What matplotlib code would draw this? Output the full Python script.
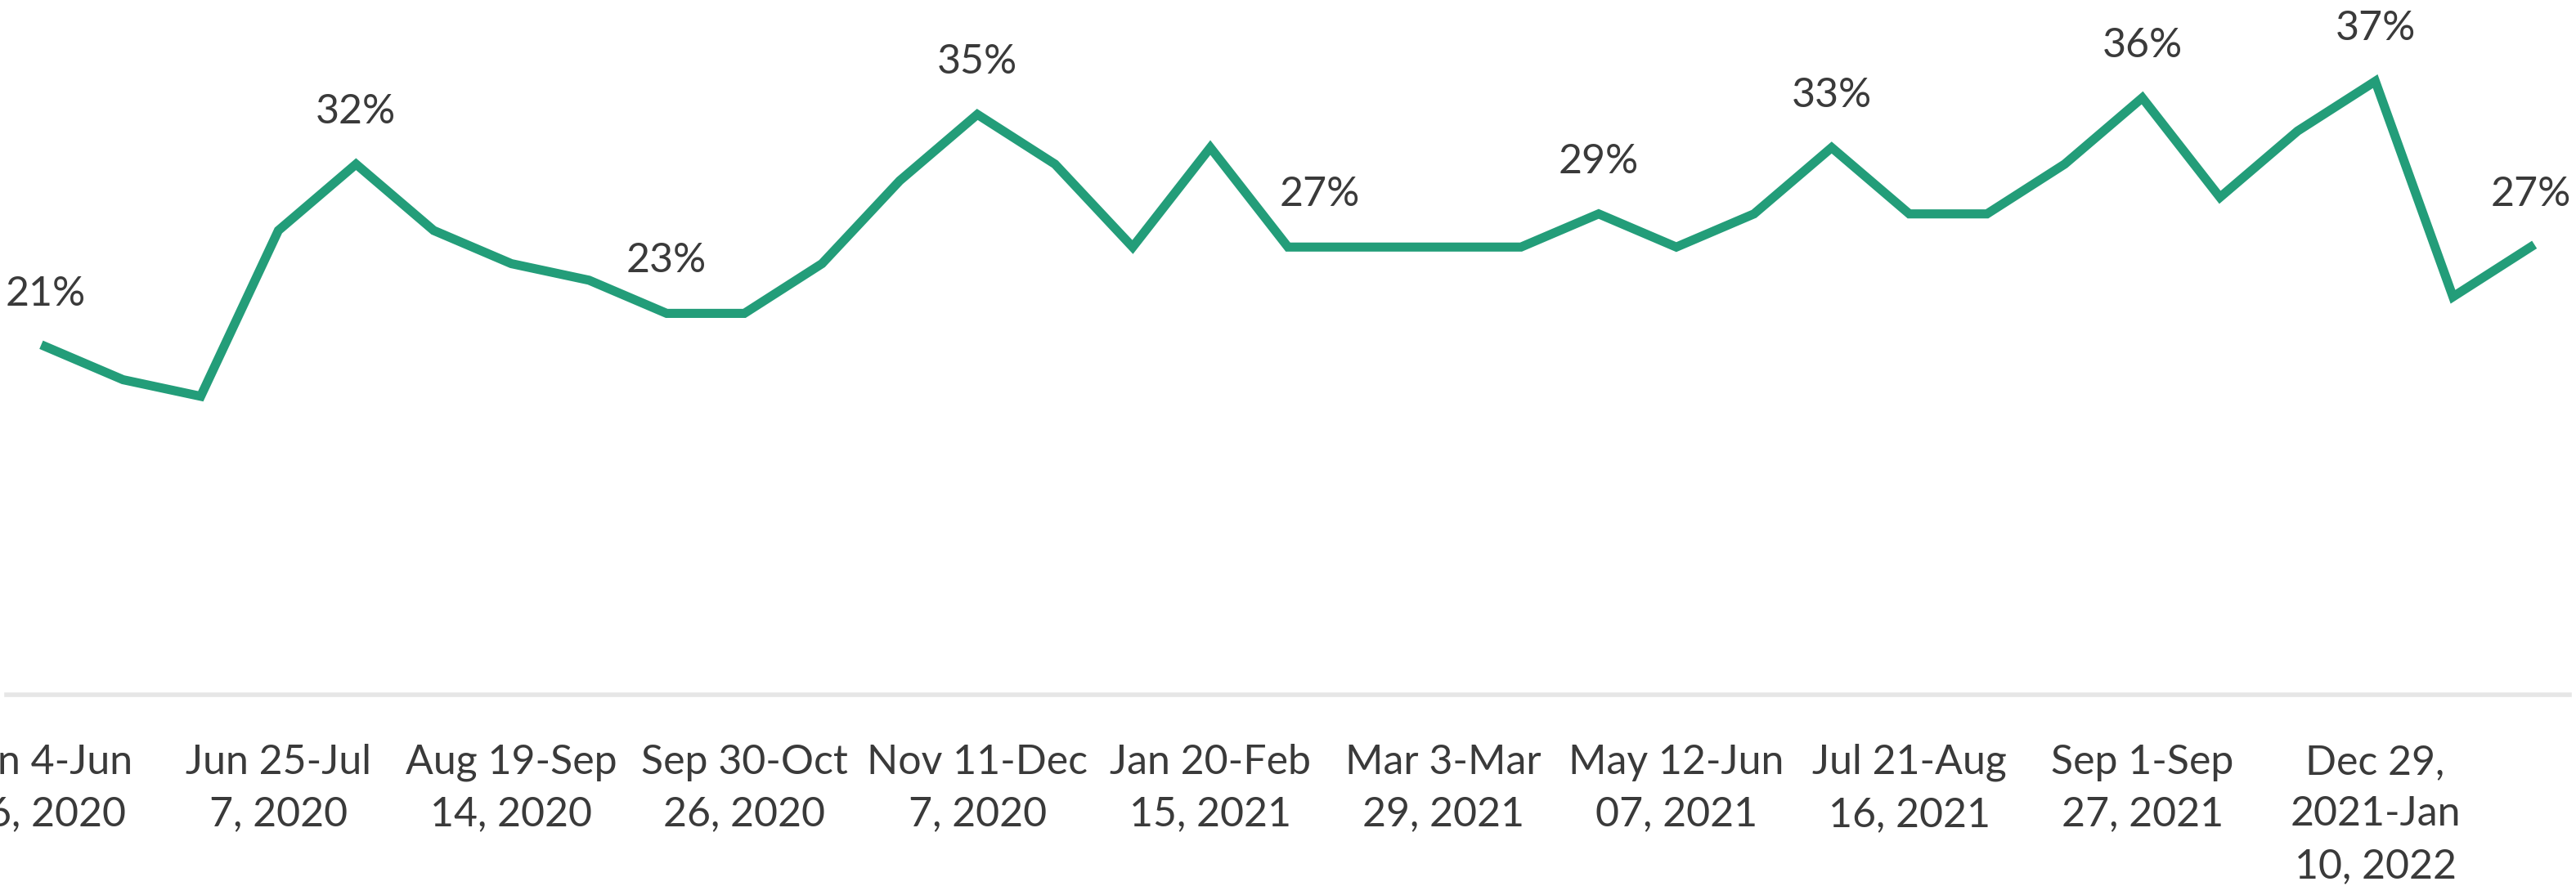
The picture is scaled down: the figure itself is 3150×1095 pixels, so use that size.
import matplotlib
matplotlib.use("Agg")
import matplotlib.pyplot as plt
import numpy as np

# share of respondents per survey week (percent)
values = [21, 19, 18, 28, 32, 28, 26, 25, 23, 23, 26, 31, 35, 32, 27, 33, 27,
          27, 27, 27, 29, 27, 29, 33, 29, 29, 32, 36, 30, 34, 37, 24, 27]

# points that carry a data label
label_idx = [0, 4, 8, 12, 16, 20, 23, 27, 30, 32]

# category labels shown (every third category)
tick_labels = [
    "Jun 4-Jun\n16, 2020",
    "Jun 25-Jul\n7, 2020",
    "Aug 19-Sep\n14, 2020",
    "Sep 30-Oct\n26, 2020",
    "Nov 11-Dec\n7, 2020",
    "Jan 20-Feb\n15, 2021",
    "Mar 3-Mar\n29, 2021",
    "May 12-Jun\n07, 2021",
    "Jul 21-Aug\n16, 2021",
    "Sep 1-Sep\n27, 2021",
    "Dec 29,\n2021-Jan\n10, 2022",
]
tick_step = 3

LINE = "#239d79"
TEXT = "#3a3a3a"

plt.rcParams["font.family"] = ["Lato", "DejaVu Sans"]

W, H = 3150, 1095
fig = plt.figure(figsize=(W / 100, H / 100), dpi=100)
ax = fig.add_axes([8 / W, (H - 850) / H, (3142 - 8) / W, 850 / H])

x = np.arange(len(values))
ax.plot(x, values, color=LINE, lw=8, solid_joinstyle="miter", clip_on=False)

for i in label_idx:
    # the label on the flat 27% run sits a little to the right of its point
    dx = 28 if i == 16 else 0
    ax.annotate(f"{values[i]}%", (x[i], values[i]), xytext=(dx, 36),
                textcoords="offset points", ha="center", va="baseline",
                fontsize=36, color=TEXT, annotation_clip=False)

ax.set_xlim(-0.5, len(values) - 0.5)
ax.set_ylim(0, 41.9)
ax.set_xticks(x[::tick_step])
ax.set_xticklabels(tick_labels, fontsize=36, color=TEXT, linespacing=1.48)
ax.tick_params(axis="x", length=0, pad=43)
ax.set_yticks([])

for s in ["top", "left", "right"]:
    ax.spines[s].set_visible(False)
ax.spines["bottom"].set_color("#e6e6e6")
ax.spines["bottom"].set_linewidth(4)

fig.savefig("out.png", dpi=100)
